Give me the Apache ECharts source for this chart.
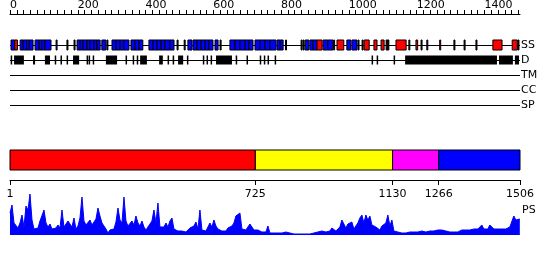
<!DOCTYPE html>
<html>
<head>
<meta charset="utf-8">
<script src="https://cdn.jsdelivr.net/npm/echarts@6/dist/echarts.min.js"></script>
<style>html,body{margin:0;padding:0;background:#fff}#c{width:550px;height:260px}</style>
</head>
<body>
<div id="c"></div>
<script>
// ---- data ----
const seqLength = 1506;
const trackNames = ['SS', 'D', 'TM', 'CC', 'SP'];
const topTickLabels = [0, 200, 400, 600, 800, 1000, 1200, 1400];
const topTickStep = 20;
// secondary structure: strands (blue), helices (red), short elements (black)
const ssStrand = [[4,15],[31,40],[40,50],[50,58],[58,69],[75,87],[87,95],[95,104],[104,122],[137,139],[199,208],[208,216],[216,228],[228,237],[237,249],[249,258],[258,267],[272,284],[302,314],[314,326],[326,337],[337,352],[358,370],[370,382],[382,393],[411,423],[423,435],[435,447],[447,458],[458,473],[473,485],[526,538],[541,553],[553,565],[565,577],[577,588],[588,600],[606,615],[650,665],[665,680],[680,695],[695,706],[706,718],[724,739],[739,753],[753,768],[768,786],[789,798],[798,807],[814,816],[872,883],[886,895],[895,907],[925,939],[939,954],[995,1007],[1010,1025],[1231,1233]];
const ssHelix = [[15,23],[907,922],[966,986],[1046,1061],[1075,1084],[1096,1105],[1140,1170],[1199,1204],[1269,1271],[1426,1453],[1483,1498]];
const ssShort = [[169,170],[190,191],[287,288],[494,495],[515,516],[621,622],[860,861],[866,867],[956,957],[1028,1029],[1040,1041],[1111,1119],[1178,1179],[1214,1215],[1311,1312],[1341,1342],[1376,1377],[1500,1501]];
// disorder regions
const disorder = [[3,5],[13,42],[69,75],[104,119],[133,135],[150,152],[168,170],[187,205],[227,229],[233,235],[245,247],[284,317],[342,344],[363,365],[375,377],[385,405],[441,452],[466,468],[481,483],[497,512],[523,526],[570,572],[581,583],[593,595],[609,656],[667,669],[699,701],[738,740],[750,752],[761,763],[782,784],[1068,1070],[1083,1085],[1133,1135],[1167,1438],[1444,1485],[1491,1503]];
// domains
const domainStarts = [1, 725, 1130, 1266];
const domainEnds = [725, 1130, 1266, 1506];
const domainTicks = [1, 725, 1130, 1266, 1506];
// PS profile, sampled every psStep residues from residue 1
const psStep = 5.9;
const psValues = [22,30,12,11,7,12,20,8,29,25,41,15,6,5,7,14,13,25,12,8,11,6,5,7,10,7,25,8,6,14,14,8,17,6,9,17,38,14,10,10,15,10,12,16,27,19,12,12,6,2,5,7,6,13,27,15,12,38,14,9,7,14,10,19,12,9,14,8,5,8,6,14,25,12,32,8,7,8,12,8,14,17,6,4,4,3,4,4,3,5,7,5,9,13,6,25,5,4,4,4,12,8,15,9,6,5,4,5,4,7,5,9,12,19,17,22,6,4,5,6,11,9,5,4,5,4,3,2,3,9,2,2,2,2,2,3,2,2,3,3,2,1,1,1,1,2,1,1,1,1,1,1,2,2,3,5,4,6,3,3,4,7,5,4,5,8,15,11,7,11,12,13,6,5,12,17,20,12,20,15,19,10,8,8,6,5,9,8,12,20,9,15,4,4,3,2,2,3,2,3,3,3,3,4,3,3,4,4,3,4,4,5,4,4,5,4,5,4,4,4,3,3,3,4,3,5,5,6,5,7,5,6,6,5,6,5,10,6,5,6,10,8,6,7,6,7,6,7,6,7,8,10,19,15,15,16];

// ---- build ----
const topTicks = [];
for (let v = 0; v <= 1500; v += topTickStep) topTicks.push(v);
const psData = psValues.map((v, i) => [1 + i * psStep, v]);
const ssData = []
  .concat(ssStrand.map(s => [s[0], s[1], 0, 0]))
  .concat(ssHelix.map(s => [s[0], s[1], 0, 1]))
  .concat(ssShort.map(s => [s[0], s[1], 0, 2]));
const dData = disorder.map(s => [s[0], s[1], 1]);
const domData = domainStarts.map((s, i) => [s, domainEnds[i], i]);
const ssColors = ['#0000ff', '#ff0000', '#000000'];
const domColors = ['#ff0000', '#ffff00', '#ff00ff', '#0000ff'];
const FONT = 'DejaVu Sans';
const TXT = '#000';

const chart = echarts.init(document.getElementById('c'), null, {renderer: 'canvas'});
chart.setOption({
  animation: false,
  grid: [
    {left: 10, right: 30, top: 45, height: 60},
    {left: 10, right: 30, top: 150, height: 30},
    {left: 10, right: 30, top: 194, height: 41}
  ],
  xAxis: [
    { // top ruler
      gridIndex: 0, type: 'value', position: 'top', offset: 31, min: 0, max: 1505,
      axisLine: {onZero: false, lineStyle: {color: '#000', width: 1}},
      axisTick: {length: 4, customValues: topTicks, lineStyle: {color: '#000'}},
      axisLabel: {customValues: topTickLabels, align: 'left', margin: 3, fontFamily: FONT, fontSize: 11, color: TXT,
        formatter: v => String(v)},
      splitLine: {show: false}
    },
    { // track data axis
      gridIndex: 0, type: 'value', min: 1, max: seqLength, show: false
    },
    { // domain axis
      gridIndex: 1, type: 'value', position: 'bottom', min: 1, max: seqLength,
      axisLine: {onZero: false, lineStyle: {color: '#000', width: 1}},
      axisTick: {length: 5, customValues: domainTicks, lineStyle: {color: '#000'}},
      axisLabel: {customValues: domainTicks, margin: 9, fontFamily: FONT, fontSize: 11, color: TXT,
        formatter: v => String(v)},
      splitLine: {show: false}
    },
    { gridIndex: 2, type: 'value', min: 1, max: seqLength, show: false }
  ],
  yAxis: [
    {
      gridIndex: 0, type: 'value', min: 0, max: 4, interval: 1, inverse: true, position: 'right',
      axisLine: {show: false}, axisTick: {show: false},
      axisLabel: {margin: 1, fontFamily: FONT, fontSize: 11, color: TXT, formatter: v => trackNames[v]},
      splitLine: {show: true, lineStyle: {color: '#000', width: 1}}
    },
    { gridIndex: 1, type: 'value', min: 0, max: 3, show: false },
    { gridIndex: 2, type: 'value', min: 0, max: 41, show: false }
  ],
  graphic: [
    {type: 'text', left: 522, top: 205, style: {text: 'PS', fontFamily: FONT, fontSize: 11, fill: TXT}}
  ],
  series: [
    {
      type: 'custom', xAxisIndex: 1, yAxisIndex: 0, data: dData, encode: {x: [0, 1], y: 2},
      renderItem: (params, api) => {
        const a = api.coord([api.value(0), api.value(2)]);
        const b = api.coord([api.value(1), api.value(2)]);
        const w = Math.max(b[0] - a[0], 1.5);
        return {type: 'rect', shape: {x: a[0], y: a[1] - 4.5, width: w, height: 9}, style: {fill: '#000'}};
      }
    },
    {
      type: 'custom', xAxisIndex: 1, yAxisIndex: 0, data: ssData, encode: {x: [0, 1], y: 2},
      renderItem: (params, api) => {
        const a = api.coord([api.value(0), api.value(2)]);
        const b = api.coord([api.value(1), api.value(2)]);
        const t = api.value(3);
        const w = Math.max(b[0] - a[0], 1);
        return {type: 'rect', shape: {x: a[0], y: a[1] - 5, width: w, height: 10},
          style: {fill: ssColors[t], stroke: '#000', lineWidth: 1}};
      }
    },
    {
      type: 'custom', xAxisIndex: 2, yAxisIndex: 1, data: domData, encode: {x: [0, 1]},
      renderItem: (params, api) => {
        const a = api.coord([api.value(0), 3]);
        const b = api.coord([api.value(1), 1]);
        return {type: 'rect', shape: {x: a[0], y: a[1], width: b[0] - a[0], height: b[1] - a[1]},
          style: {fill: domColors[api.value(2)], stroke: '#000', lineWidth: 1}};
      }
    },
    {
      type: 'line', xAxisIndex: 3, yAxisIndex: 2, data: psData, showSymbol: false, symbol: 'none',
      lineStyle: {color: '#0000ff', width: 1}, areaStyle: {color: '#0000ff', opacity: 1}
    }
  ]
});
</script>
</body>
</html>
